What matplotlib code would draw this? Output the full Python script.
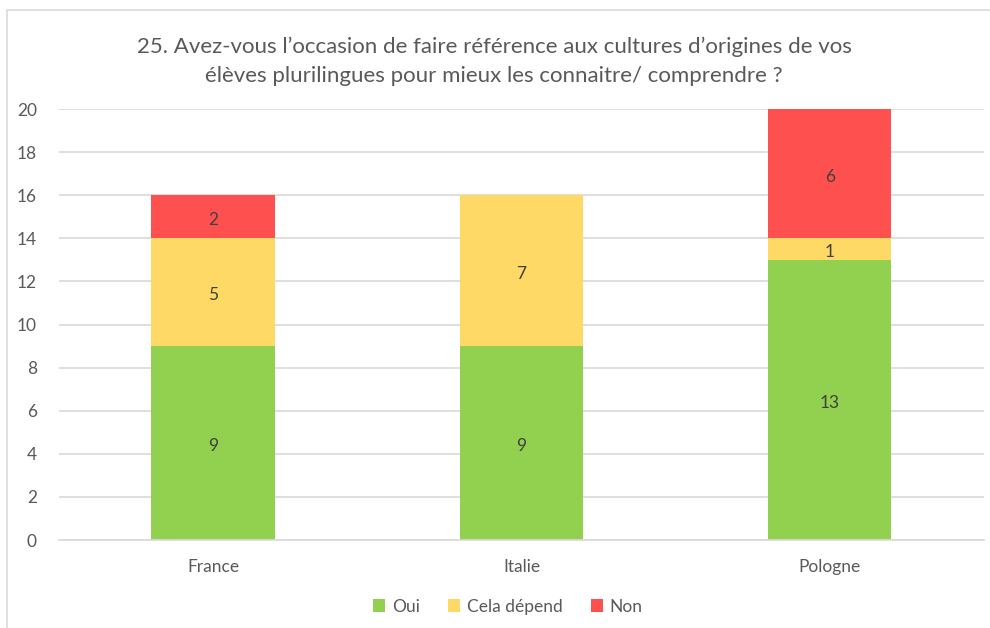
import matplotlib.pyplot as plt
from matplotlib.patches import Rectangle
import numpy as np

# --- Data ---
categories = ['France', 'Italie', 'Pologne']
oui = [9, 9, 13]
depend = [5, 7, 1]
non = [2, 0, 6]

series = [('Oui', oui, '#92D050'),
          ('Cela dépend', depend, '#FFD966'),
          ('Non', non, '#FF5050')]

plt.rcParams['font.family'] = ['Lato', 'DejaVu Sans']
text_color = '#595959'

fig = plt.figure(figsize=(9.9, 6.28), dpi=100)
ax = fig.add_axes([0.0596, 0.1401, 0.9343, 0.6863])

# chart border (top and left visible)
fig.patches.append(Rectangle((7 / 990, -0.1), 1.2, 1 - 10 / 628 + 0.1,
                             transform=fig.transFigure, fill=False,
                             edgecolor='#D9D9D9', linewidth=1.2))

x = np.arange(len(categories))
bottom = np.zeros(len(categories))
for name, vals, color in series:
    vals = np.array(vals, dtype=float)
    ax.bar(x, vals, 0.4, bottom=bottom, color=color, label=name, zorder=2)
    for xi, b, v in zip(x, bottom, vals):
        if v > 0:
            ax.text(xi, b + v / 2 - 0.15, str(int(v)), ha='center', va='center',
                    fontsize=12.5, color='#404040')
    bottom += vals

ax.set_xlim(-0.5, 2.5)
ax.set_ylim(0, 20)
ax.set_yticks(range(0, 21, 2))
ax.set_xticks(x)
ax.set_xticklabels(categories)
ax.tick_params(axis='both', length=0, labelsize=12.5, labelcolor=text_color)
ax.tick_params(axis='y', pad=16)
ax.tick_params(axis='x', pad=14)
ax.grid(axis='y', color='#D9D9D9', linewidth=1.2, zorder=0)
for side in ['top', 'right', 'left']:
    ax.spines[side].set_visible(False)
ax.spines['bottom'].set_color('#D9D9D9')
ax.spines['bottom'].set_linewidth(1.2)

fig.text(0.499, 0.902, "25. Avez-vous l’occasion de faire référence aux cultures d’origines de vos\n"
         "élèves plurilingues pour mieux les connaitre/ comprendre ?",
         ha='center', va='center', fontsize=16, color=text_color, linespacing=1.55)

leg = fig.legend(loc='center', bbox_to_anchor=(0.513, 0.034), ncol=3, frameon=False,
                 fontsize=12.5, handlelength=0.7, handleheight=0.7, handletextpad=0.4,
                 columnspacing=1.6)
for t in leg.get_texts():
    t.set_color(text_color)

fig.savefig('out.png', dpi=100)
